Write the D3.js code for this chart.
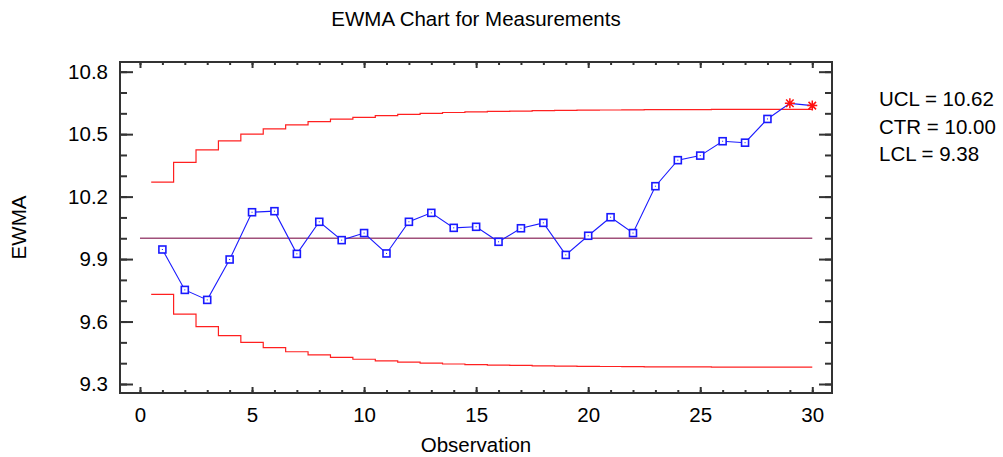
<!DOCTYPE html>
<html>
<head>
<meta charset="utf-8">
<script src="https://cdn.jsdelivr.net/npm/d3@7"></script>
<style>
  html, body { margin: 0; padding: 0; background: #fff; }
  svg text { font-family: "Liberation Sans", Arial, sans-serif; fill: #000; }
</style>
</head>
<body>
<svg id="chart" width="1003" height="457"></svg>
<script>
// Observation numbers
const observations = [1,2,3,4,5,6,7,8,9,10,11,12,13,14,15,16,17,18,19,20,21,22,23,24,25,26,27,28,29,30];

// EWMA statistic for each observation
const ewma = [9.946, 9.752, 9.704, 9.898, 10.125, 10.130, 9.925, 10.079, 9.991, 10.025,
              9.927, 10.079, 10.122, 10.050, 10.055, 9.983, 10.048, 10.074, 9.920, 10.012,
              10.101, 10.025, 10.250, 10.375, 10.397, 10.466, 10.459, 10.573, 10.648, 10.637];

// Upper and lower control limits per observation
const ucl = [10.270, 10.364, 10.424, 10.468, 10.500, 10.525, 10.545, 10.560, 10.572, 10.581,
             10.589, 10.595, 10.600, 10.604, 10.607, 10.609, 10.611, 10.613, 10.614, 10.615,
             10.616, 10.617, 10.618, 10.618, 10.618, 10.619, 10.619, 10.619, 10.619, 10.619];
const lcl = [9.730, 9.636, 9.576, 9.532, 9.500, 9.475, 9.455, 9.440, 9.428, 9.419,
             9.411, 9.405, 9.400, 9.396, 9.393, 9.391, 9.389, 9.387, 9.386, 9.385,
             9.384, 9.383, 9.382, 9.382, 9.382, 9.381, 9.381, 9.381, 9.381, 9.381];
const centerValue = 10.00;

// Axis tick labels
const xTickLabels = [0, 5, 10, 15, 20, 25, 30];
const yTickLabels = [9.3, 9.6, 9.9, 10.2, 10.5, 10.8];

// Summary text at the right
const limitLabels = ["UCL = 10.62", "CTR = 10.00", "LCL = 9.38"];

const svg = d3.select("#chart");
const plot = { left: 120, right: 832, top: 62, bottom: 393 };

const x = d3.scaleLinear().domain([-0.892, 30.88]).range([plot.left, plot.right]);
const y = d3.scaleLinear().domain([9.2568, 10.8465]).range([plot.bottom, plot.top]);

const FS = "20.5px";
const axisColor = "#333";

// Title
svg.append("text")
  .attr("x", (plot.left + plot.right) / 2).attr("y", 26)
  .attr("text-anchor", "middle").style("font-size", FS)
  .text("EWMA Chart for Measurements");

// Axis titles
svg.append("text")
  .attr("x", (plot.left + plot.right) / 2).attr("y", 452)
  .attr("text-anchor", "middle").style("font-size", FS)
  .text("Observation");
svg.append("text")
  .attr("transform", `translate(26,${(plot.top + plot.bottom) / 2}) rotate(-90)`)
  .attr("text-anchor", "middle").style("font-size", FS)
  .text("EWMA");

// Axes: minor and major ticks on all four sides, pointing inward
const yMinor = d3.range(9.3, 10.85, 0.1).map(v => +v.toFixed(1));
const xMinor = d3.range(0, 31, 1);

function styleAxis(g) {
  g.select(".domain").remove();
  g.selectAll(".tick line").attr("stroke", axisColor).attr("stroke-width", 2);
  g.selectAll(".tick text").style("font-size", FS).attr("fill", "#000")
    .style("font-family", '"Liberation Sans", Arial, sans-serif');
}

svg.append("g").attr("transform", `translate(${plot.left},0)`)
  .call(d3.axisLeft(y).tickValues(yMinor).tickSize(-7).tickFormat("")).call(styleAxis);
svg.append("g").attr("transform", `translate(${plot.left},0)`)
  .call(d3.axisLeft(y).tickValues(yTickLabels).tickSize(-13).tickPadding(12).tickFormat(d3.format(".1f")))
  .call(styleAxis);
svg.append("g").attr("transform", `translate(${plot.right},0)`)
  .call(d3.axisRight(y).tickValues(yMinor).tickSize(-7).tickFormat("")).call(styleAxis);
svg.append("g").attr("transform", `translate(${plot.right},0)`)
  .call(d3.axisRight(y).tickValues(yTickLabels).tickSize(-13).tickFormat("")).call(styleAxis);

svg.append("g").attr("transform", `translate(0,${plot.bottom})`)
  .call(d3.axisBottom(x).tickValues(xMinor).tickSize(-3).tickFormat("")).call(styleAxis);
svg.append("g").attr("transform", `translate(0,${plot.bottom})`)
  .call(d3.axisBottom(x).tickValues(xTickLabels).tickSize(-6).tickPadding(14).tickFormat(d3.format("d")))
  .call(styleAxis);
svg.append("g").attr("transform", `translate(0,${plot.top})`)
  .call(d3.axisTop(x).tickValues(xMinor).tickSize(-3).tickFormat("")).call(styleAxis);
svg.append("g").attr("transform", `translate(0,${plot.top})`)
  .call(d3.axisTop(x).tickValues(xTickLabels).tickSize(-6).tickFormat("")).call(styleAxis);

// Plot frame
svg.append("rect")
  .attr("x", plot.left).attr("y", plot.top)
  .attr("width", plot.right - plot.left).attr("height", plot.bottom - plot.top)
  .attr("fill", "none").attr("stroke", axisColor).attr("stroke-width", 2);

// Step-shaped control limits: each limit holds from i-0.5 to i+0.5, ending at the last observation
const stepLine = d3.line().x(d => x(d[0])).y(d => y(d[1])).curve(d3.curveStepAfter);
function stepPoints(vals) {
  const pts = observations.map((o, i) => [o - 0.5, vals[i]]);
  pts.push([observations[observations.length - 1], vals[vals.length - 1]]);
  return pts;
}
[ucl, lcl].forEach(vals => {
  svg.append("path").attr("d", stepLine(stepPoints(vals)))
    .attr("fill", "none").attr("stroke", "#ff2020").attr("stroke-width", 1.2);
});

// Center line
svg.append("line")
  .attr("x1", x(0)).attr("x2", x(observations[observations.length - 1]))
  .attr("y1", y(centerValue)).attr("y2", y(centerValue))
  .attr("stroke", "#a0507a").attr("stroke-width", 1.5);

// EWMA series
const pts = observations.map((o, i) => ({ o, v: ewma[i], out: ewma[i] > ucl[i] || ewma[i] < lcl[i] }));
svg.append("path")
  .attr("d", d3.line().x(d => x(d.o)).y(d => y(d.v))(pts))
  .attr("fill", "none").attr("stroke", "#1a1aff").attr("stroke-width", 1.1);

const inPts = pts.filter(d => !d.out);
const sq = svg.append("g").selectAll("g").data(inPts).join("g")
  .attr("transform", d => `translate(${x(d.o)},${y(d.v)})`);
sq.append("rect").attr("x", -3.5).attr("y", -3.5).attr("width", 7).attr("height", 7)
  .attr("fill", "#fff").attr("stroke", "#1a1aff").attr("stroke-width", 1.6);
sq.append("rect").attr("x", -0.5).attr("y", -0.5).attr("width", 1).attr("height", 1)
  .attr("fill", "#1a1aff");

// Out-of-control points drawn as red asterisks
const r = 5;
const star = svg.append("g").selectAll("g").data(pts.filter(d => d.out)).join("g")
  .attr("transform", d => `translate(${x(d.o)},${y(d.v)})`);
star.append("path")
  .attr("d", `M${-r},0L${r},0M0,${-r}L0,${r}M${-r*0.75},${-r*0.75}L${r*0.75},${r*0.75}M${-r*0.75},${r*0.75}L${r*0.75},${-r*0.75}`)
  .attr("stroke", "#ff1010").attr("stroke-width", 1.5).attr("fill", "none");

// Limit summary
svg.append("g").selectAll("text").data(limitLabels).join("text")
  .attr("x", 879).attr("y", (d, i) => 106 + i * 27.5)
  .style("font-size", FS).text(d => d);
</script>
</body>
</html>
